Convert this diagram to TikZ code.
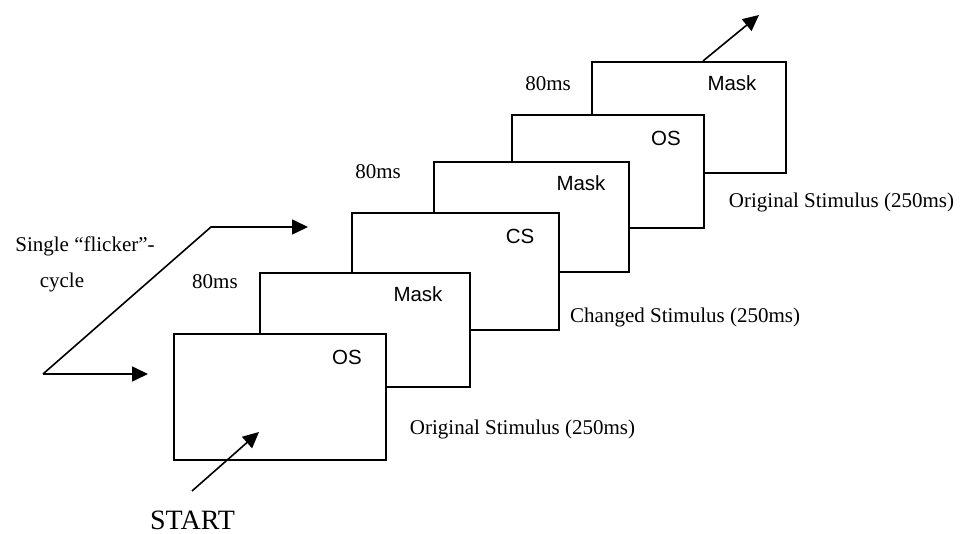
\documentclass[tikz,border=0pt]{standalone}
\usepackage{fontspec}
\setmainfont{Liberation Serif}
\newfontfamily\arialfont{Liberation Sans}
\usetikzlibrary{arrows.meta}
\tikzset{
  frame/.style={draw=black, fill=white, line width=1.8pt, rectangle, inner sep=0pt, anchor=north west},
  lbl/.style={font=\arialfont\fontsize{20.5}{24}\selectfont, inner sep=0pt},
  captxt/.style={font=\fontsize{21}{25}\selectfont, inner sep=0pt},
  conn/.style={line width=1.6pt, -{Triangle[length=16pt,width=15pt]}},
}
\begin{document}
\begin{tikzpicture}[x=1pt,y=-1pt]
\useasboundingbox (0,0) rectangle (967,534);
% frames, back to front
\node[frame, minimum width=194pt, minimum height=111pt] (r6) at (591,61) {};
\node[frame, minimum width=192pt, minimum height=113pt] (r5) at (511,114) {};
\node[frame, minimum width=195pt, minimum height=110pt] (r4) at (433,161) {};
\node[frame, minimum width=207pt, minimum height=117pt] (r3) at (351,212) {};
\node[frame, minimum width=210pt, minimum height=114pt] (r2) at (259,272) {};
\node[frame, minimum width=212pt, minimum height=126pt] (r1) at (173,333) {};
% labels inside frames
\node[lbl] (l6) at (732,83) {Mask};
\node[lbl] (l5) at (666,138) {OS};
\node[lbl] (l4) at (581,183) {Mask};
\node[lbl] (l3) at (520,236) {CS};
\node[lbl] (l2) at (418,294) {Mask};
\node[lbl] (l1) at (347,357) {OS};
% timing captions
\node[captxt] (t1) at (215,282) {80ms};
\node[captxt] (t2) at (378,172) {80ms};
\node[captxt] (t3) at (548,84) {80ms};
\node[captxt] (o1) at (522.5,429) {Original Stimulus (250ms)};
\node[captxt, anchor=west] (c1) at (570,317) {Changed Stimulus (250ms)};
\node[captxt] (o2) at (841.5,202) {Original Stimulus (250ms)};
\node[captxt] (fl1) at (85,246) {Single “flicker”-};
\node[captxt] (fl2) at (62,282) {cycle};
\node[font=\fontsize{28}{32}\selectfont, inner sep=0pt] (start) at (192.5,520.5) {START};
% arrows
\coordinate (sa) at (192,491);
\coordinate (sb) at (259,432);
\draw[conn] (sa) -- (sb);
\coordinate (ea) at (703,61);
\coordinate (eb) at (759,15);
\draw[conn] (ea) -- (eb);
\coordinate (fa) at (43,374);
\coordinate (fb) at (211,227);
\coordinate (fc) at (308,227);
\coordinate (fd) at (148,374);
\draw[conn] (fa) -- (fb) -- (fc);
\draw[conn] (fa) -- (fd);
\end{tikzpicture}
\end{document}
